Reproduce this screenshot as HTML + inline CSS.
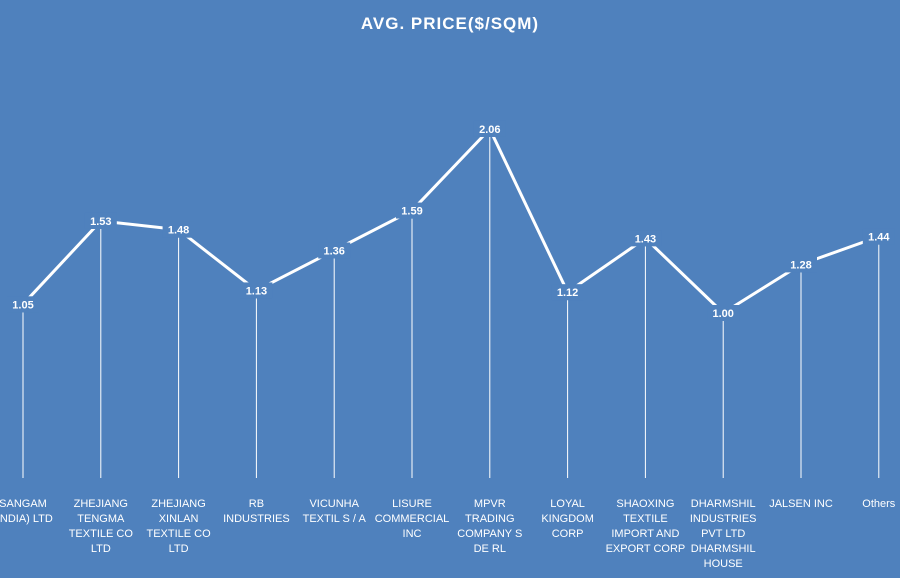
<!DOCTYPE html>
<html><head><meta charset="utf-8"><style>
body{margin:0;width:900px;height:578px;background:#4f81bd;overflow:hidden;font-family:"Liberation Sans",sans-serif}
svg{display:block}
</style></head><body>
<svg width="900" height="578" id="c">
<rect width="900" height="578" fill="#4f81bd"/>
<text x="450" y="29" text-anchor="middle" fill="#fff" font-size="17" font-weight="bold" letter-spacing="1">AVG. PRICE($/SQM)</text>
</svg>
<script>
const categories=[["SANGAM","(INDIA) LTD"],["ZHEJIANG","TENGMA","TEXTILE  CO","LTD"],["ZHEJIANG","XINLAN","TEXTILE  CO","LTD"],["RB","INDUSTRIES"],["VICUNHA","TEXTIL S / A"],["LISURE","COMMERCIAL","INC"],["MPVR","TRADING","COMPANY  S","DE RL"],["LOYAL","KINGDOM","CORP"],["SHAOXING","TEXTILE","IMPORT AND","EXPORT CORP"],["DHARMSHIL","INDUSTRIES","PVT LTD","DHARMSHIL","HOUSE"],["JALSEN  INC"],["Others"]];
const values=[1.05,1.53,1.48,1.13,1.36,1.59,2.06,1.12,1.43,1.00,1.28,1.44];
const valueLabels=["1.05","1.53","1.48","1.13","1.36","1.59","2.06","1.12","1.43","1.00","1.28","1.44"];
const NS="http://www.w3.org/2000/svg";
const svg=document.getElementById('c');
const x=i=>23+i*77.8;
const y=v=>486.6-173.6*v;
const baseY=478;
function mk(t,a){const e=document.createElementNS(NS,t);for(const k in a)e.setAttribute(k,a[k]);svg.appendChild(e);return e;}
values.forEach((v,i)=>{
  const l=mk('line',{x1:x(i),x2:x(i),y1:y(v)+8,y2:baseY,stroke:'#fff','stroke-width':1});
  
  
});
const p=mk('polyline',{points:values.map((v,i)=>x(i)+','+y(v)).join(' '),fill:'none',stroke:'#fff','stroke-width':3,'stroke-linejoin':'round'});


values.forEach((v,i)=>{
  const r=mk('rect',{x:x(i)-16,y:y(v)-8,width:32,height:16,fill:'#4f81bd'});
  
  
  const t=mk('text',{x:x(i),y:y(v)+4,'text-anchor':'middle',fill:'#fff','font-size':11,'font-weight':'bold'});
  t.textContent=valueLabels[i];
  
  
});
categories.forEach((lines,i)=>{
  const t=mk('text',{'text-anchor':'middle',fill:'#fff','font-size':11});
  
  
  lines.forEach((s,j)=>{const ts=document.createElementNS(NS,'tspan');ts.setAttribute('x',x(i));ts.setAttribute('y',507+j*15);ts.setAttribute('xml:space','preserve');ts.textContent=s;t.appendChild(ts);});
});
</script>
</body></html>
